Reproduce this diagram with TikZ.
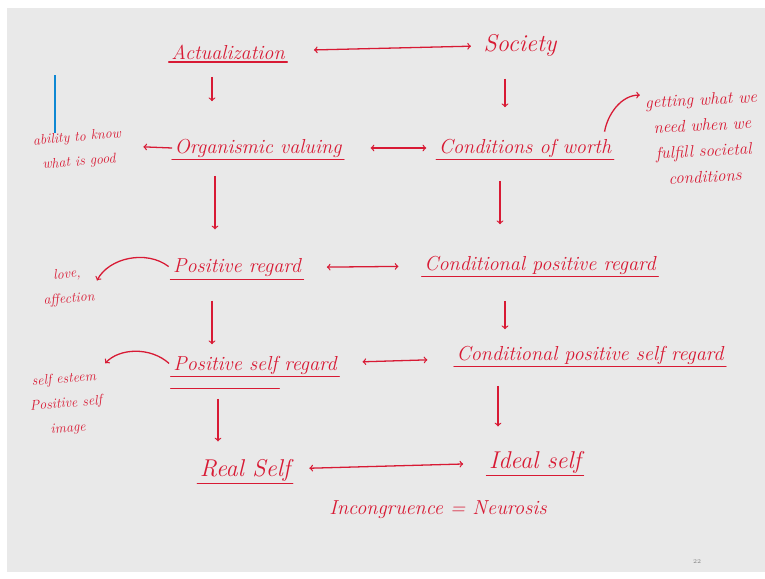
\documentclass[tikz,border=0pt]{standalone}
\usepackage{tikz}
\usetikzlibrary{arrows}
\definecolor{ink}{RGB}{216,26,52}
\definecolor{slide}{RGB}{233,233,233}
\tikzstyle{concept} = [text=ink, 
font=\LARGE\itshape, 
inner sep=2pt]
\tikzstyle{bigconcept} = [text=ink, 
font=\huge\itshape, 
inner sep=2pt]
\tikzstyle{note} = [text=ink, 
font=\large\itshape, 
align=center, 
inner sep=1pt]
\tikzstyle{uline} = [draw=ink, line width=1.1pt, line cap=round]
\tikzstyle{arrow} = [draw=ink, line width=1.1pt, ->, >=to]
\tikzstyle{twoway} = [draw=ink, line width=1.1pt, <->, >=to]

\begin{document}
\begin{tikzpicture}[x=0.03cm, y=-0.03cm]

    \useasboundingbox (0,0) rectangle (765,578);
    \fill[white] (0,0) rectangle (765,578);
    \fill[slide] (7,8) rectangle (765,572);
    \draw[cyan!70!blue, line width=1pt] (55,75) -- (55,133);

    \node (act) [concept] at (228,52) {Actualization};
    \node (soc) [bigconcept] at (520,45) {Society};
    \node (org) [concept] at (258,148) {Organismic valuing};
    \node (cow) [concept] at (525,148) {Conditions of worth};
    \node (pr) [concept] at (237,268) {Positive regard};
    \node (cpr) [concept] at (540,265) {Conditional positive regard};
    \node (psr) [concept] at (255,365) {Positive self regard};
    \node (cpsr) [concept] at (590,355) {Conditional positive self regard};
    \node (real) [bigconcept] at (245,470) {Real Self};
    \node (ideal) [bigconcept] at (535,462) {Ideal self};
    \node (incon) [note, font=\LARGE\itshape] at (438,510) {Incongruence = Neurosis};

    \node (abil) [note, rotate=5] at (78,150) {ability to know\\[7pt]what is good};
    \node (get) [note, font=\Large\itshape, rotate=3] at (703,138) {getting what we\\[4pt]need when we\\[4pt]fulfill societal\\[4pt]conditions};
    \node (love) [note, rotate=5] at (68,287) {love,\\[7pt]affection};
    \node (esteem) [note, rotate=5] at (66,404) {self esteem\\[7pt]Positive self\\[7pt]image};
    \node (pg) [text=gray, font=\tiny] at (697,562) {22};

    % underlines
    \draw[uline] (act.south west) -- (act.south east);
    \draw[uline] (org.south west) -- (org.south east);
    \draw[uline] (cow.south west) -- (cow.south east);
    \draw[uline] (pr.south west) -- (pr.south east);
    \draw[uline] (cpr.south west) -- (cpr.south east);
    \draw[uline] (psr.south west) -- (psr.south east);
    \draw[uline] ([yshift=-0.35cm]psr.south west) -- ([xshift=-1.8cm, yshift=-0.35cm]psr.south east);
    \draw[uline] (cpsr.south west) -- (cpsr.south east);
    \draw[uline] (real.south west) -- (real.south east);
    \draw[uline] (ideal.south west) -- (ideal.south east);

    \draw [arrow] ([shift={(-16,15)}]act.south) -- ([shift={(-46,-35)}]org.north);
    \draw [arrow] ([shift={(-15,20)}]soc.south) -- ([shift={(-20,-29)}]cow.north);
    \draw [arrow] ([shift={(-43,16)}]org.south) -- ([shift={(-22,-27)}]pr.north);
    \draw [arrow] ([shift={(-25,21)}]cow.south) -- ([shift={(-40,-29)}]cpr.north);
    \draw [arrow] ([shift={(-25,21)}]pr.south) -- ([shift={(-43,-9)}]psr.north);
    \draw [arrow] ([shift={(-35,24)}]cpr.south) -- ([shift={(-85,-14)}]cpsr.north);
    \draw [arrow] ([shift={(-37,22)}]psr.south) -- ([shift={(-27,-15)}]real.north);
    \draw [arrow] ([shift={(-92,19)}]cpsr.south) -- ([shift={(-37,-22)}]ideal.north);

    \draw [twoway, shorten <=0.8cm, shorten >=0.3cm] (act) -- (soc);
    \draw [twoway, shorten <=0.8cm, shorten >=0.3cm] (org) -- (cow);
    \draw [twoway, shorten <=0.7cm, shorten >=0.7cm] (pr) -- (cpr);
    \draw [twoway, shorten <=0.7cm, shorten >=0.8cm] (psr) -- (cpsr);
    \draw [twoway, shorten <=0.5cm, shorten >=0.7cm] (real) -- (ideal);

    \draw [arrow, shorten >=0.6cm] (org.west) -- (abil.east);
    \draw [arrow, shorten <=2pt, shorten >=4pt] (pr.west) to[bend right=50] (love.east);
    \draw [arrow, shorten <=2pt, shorten >=6pt] (psr.west) to[bend right=45] (esteem.north east);
    \draw [arrow, shorten <=4pt, shorten >=3pt] ([xshift=-0.3cm]cow.north east) to[out=80, in=180] (get.north west);

\end{tikzpicture}
\end{document}
